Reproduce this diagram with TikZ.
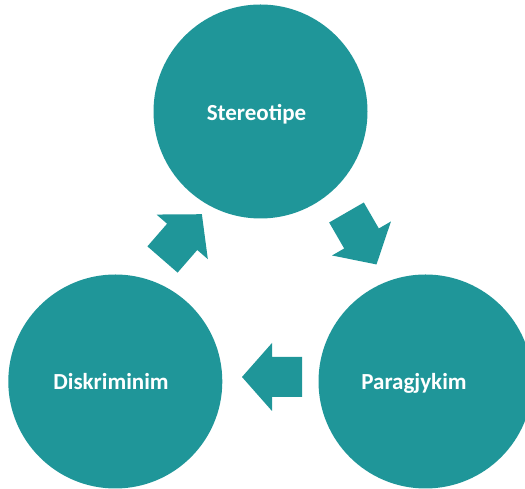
\documentclass[tikz,border=0pt]{standalone}
\usepackage{fontspec}
\setmainfont{Carlito}
\definecolor{teal1}{RGB}{31,150,153}
\begin{document}
\begin{tikzpicture}[x=1pt,y=1pt,
  bubble/.style={circle,fill=teal1,draw=none,minimum size=214pt,inner sep=0pt},
  lbl/.style={text=white,font=\fontsize{23}{27}\selectfont\bfseries,anchor=base,inner sep=0pt},
  blockarrow/.style={fill=teal1,draw=none}]
\useasboundingbox (0,0) rectangle (525,489);
\clip (0,0) rectangle (525,489);
\node[bubble] (top) at (260.5,377.5) {};
\node[bubble] (left) at (115.3,107.5) {};
\node[bubble] (right) at (425.5,107.5) {};
\node[lbl] (ttop) at (256.5,368.5) {Stereotipe};
\node[lbl] (tleft) at (111,99) {Diskriminim};
\node[lbl] (tright) at (414,99) {Paragjykim};
\foreach \px/\py/\ang in {162.5/229.5/49, 346.5/276.5/-60, 302/112/180}{
  \fill[blockarrow,shift={(\px,\py)},rotate=\ang]
    (0,-20) -- (30,-20) -- (30,-34) -- (60,0) -- (30,34) -- (30,20) -- (0,20) -- cycle;
}
\end{tikzpicture}
\end{document}
